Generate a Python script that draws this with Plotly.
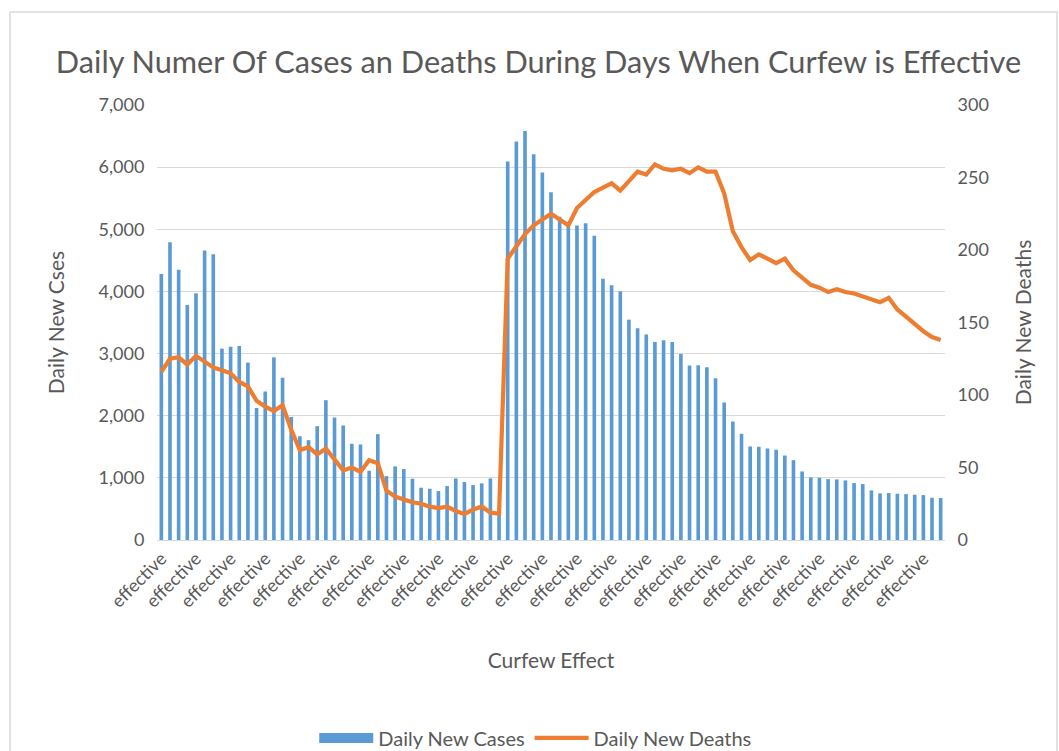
import plotly.graph_objects as go

# Daily figures while the curfew is in effect
curfew_status = ["effective"] * 91

daily_new_cases = [
    4280, 4790, 4350, 3780, 3970, 4660, 4600, 3080, 3110, 3120,
    2855, 2125, 2390, 2940, 2610, 1980, 1670, 1607, 1832, 2250,
    1971, 1843, 1548, 1537, 1114, 1703, 1028, 1184, 1141, 986,
    841, 825, 787, 868, 991, 932, 884, 911, 991, 420,
    6090, 6411, 6583, 6208, 5913, 5597, 5200, 5072, 5062, 5099,
    4896, 4205, 4098, 4001, 3546, 3407, 3305, 3187, 3214, 3187,
    2994, 2807, 2812, 2780, 2603, 2212, 1907, 1709, 1505, 1500,
    1473, 1452, 1360, 1285, 1103, 1007, 1002, 980, 975, 959,
    916, 900, 798, 750, 755, 745, 739, 728, 723, 680,
    675,
]

daily_new_deaths = [
    116, 125, 126, 121, 127, 123, 119, 117, 115, 109,
    106, 96, 92, 89, 93, 76, 62, 64, 59, 63,
    55, 48, 50, 47, 55, 53, 34, 30, 28, 26,
    25, 23, 22, 23, 20, 18, 21, 23, 19, 18,
    194, 202, 211, 217, 221, 225, 221, 217, 229, 235,
    240, 243, 246, 241, 247, 254, 252, 259, 256, 255,
    256, 253, 257, 254, 254, 239, 213, 202, 193, 197,
    194, 191, 194, 186, 181, 176, 174, 171, 173, 171,
    170, 168, 166, 164, 167, 159, 154, 149, 144, 140,
    138,
]

day_index = list(range(len(curfew_status)))
label_step = 4
tick_positions = day_index[::label_step]
tick_labels = [curfew_status[i] for i in tick_positions]

BLUE = "#5B9BD5"
ORANGE = "#ED7D31"
GRID = "#D9D9D9"
TEXT = "#595959"
FONT = "Lato, Carlito, 'Open Sans', sans-serif"

fig = go.Figure()

fig.add_trace(go.Bar(
    x=day_index, y=daily_new_cases, name="Daily New Cases",
    marker=dict(color=BLUE, line=dict(width=0)), width=0.42,
    yaxis="y", showlegend=False,
))
# legend swatch for the bars, drawn as a wide block
fig.add_trace(go.Scatter(
    x=[None], y=[None], mode="lines", name="Daily New Cases",
    line=dict(color=BLUE, width=13), yaxis="y",
))
fig.add_trace(go.Scatter(
    x=day_index, y=daily_new_deaths, name="Daily New Deaths",
    mode="lines", line=dict(color=ORANGE, width=4.2),
    yaxis="y2",
))

fig.update_layout(
    width=1059, height=751,
    paper_bgcolor="white", plot_bgcolor="white",
    font=dict(family=FONT, color=TEXT, size=18),
    margin=dict(l=157, r=114, t=105, b=211, autoexpand=False),
    title=dict(
        text="Daily Numer Of Cases an Deaths During Days When Curfew is Effective",
        x=0.5085, xanchor="center", y=1 - 62 / 751, yanchor="middle",
        font=dict(size=30.7, color=TEXT, family=FONT),
    ),
    xaxis=dict(
        range=[-0.5, len(day_index) - 0.5],
        tickmode="array", tickvals=tick_positions, ticktext=tick_labels,
        tickangle=-45, tickfont=dict(size=18, color=TEXT),
        showgrid=False, zeroline=False,
        showline=True, linecolor=GRID, linewidth=1,
        ticks="", automargin=False,
        title=dict(text="Curfew Effect", font=dict(size=21, color=TEXT), standoff=42),
    ),
    yaxis=dict(
        range=[0, 7000], dtick=1000, tickformat=",",
        showgrid=True, gridcolor=GRID, gridwidth=1.3, zeroline=False,
        ticks="outside", ticklen=8, tickcolor="rgba(0,0,0,0)",
        tickfont=dict(size=18, color=TEXT), automargin=False,
        title=dict(text="Daily New Cses", font=dict(size=21, color=TEXT), standoff=28),
    ),
    yaxis2=dict(
        range=[0, 300], dtick=50, overlaying="y", side="right",
        showgrid=False, zeroline=False,
        ticks="outside", ticklen=8, tickcolor="rgba(0,0,0,0)",
        tickfont=dict(size=18, color=TEXT), automargin=False,
        title=dict(text="Daily New Deaths", font=dict(size=21, color=TEXT), standoff=28),
    ),
    legend=dict(
        orientation="h", x=0.48, xanchor="center", y=-0.455, yanchor="middle",
        font=dict(size=20, color=TEXT), itemwidth=54,
        bgcolor="rgba(0,0,0,0)",
    ),
    bargap=0.5,
    shapes=[dict(
        type="rect", xref="paper", yref="paper",
        x0=(10 - 157) / 788, x1=(1057 - 157) / 788,
        y0=(540 - 760) / 435, y1=(540 - 12) / 435,
        line=dict(color=GRID, width=1.5), layer="below",
    )],
)

fig.write_html("out.html")
